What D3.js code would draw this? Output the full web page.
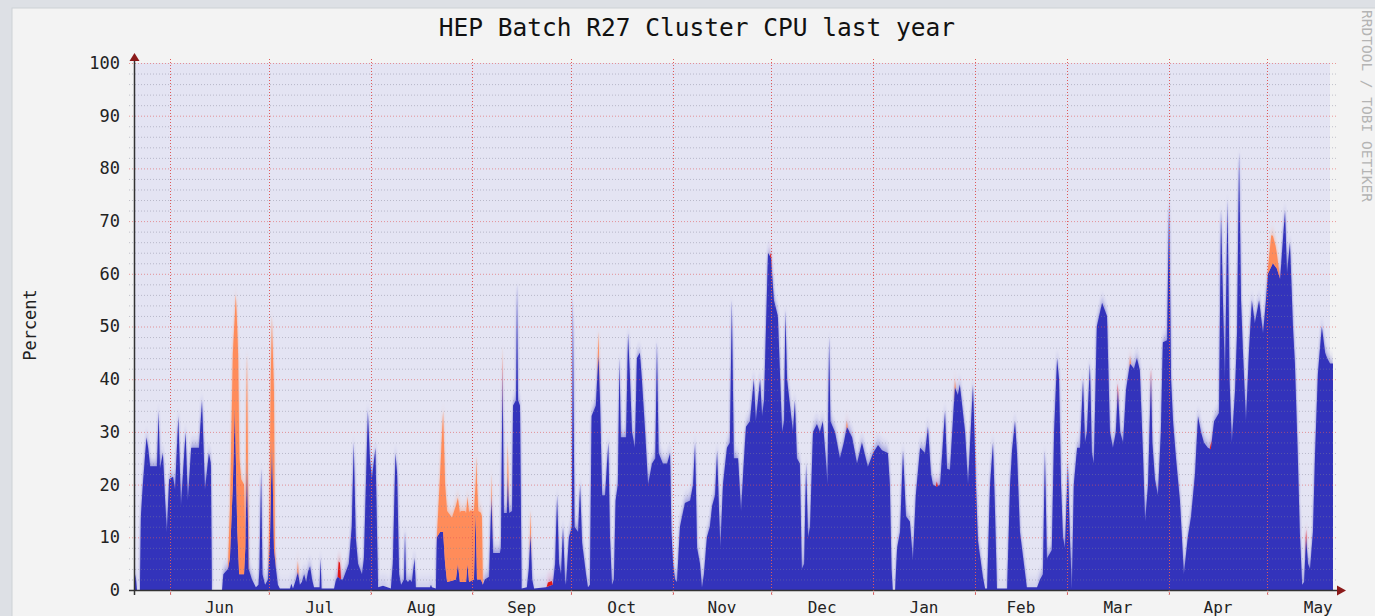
<!DOCTYPE html>
<html>
<head>
  <style>
    body {
      margin: 0;
      padding: 0;
      background: #dde0e5;
      font-family: "DejaVu Sans Mono", monospace;
    }
    #chart {
      width: 1375px;
      height: 616px;
    }
  </style>
</head>
<body>
  <div id="chart"></div>

  <script src="https://cdnjs.cloudflare.com/ajax/libs/d3/7.8.5/d3.min.js"></script>
  <script>
    // Values: [days since 21 May, percent]
    const userCpuSpring = [
      [0,0],[0.5,3],[0.9,0],[1.8,0],[2.1,14],[2.7,20],[3.8,29],[4.3,27],[4.9,23.5],[7.0,23.5],[7.5,34],[7.9,23],
      [8.8,26],[9.4,18],[10.0,11],[10.7,21],[11.9,21.5],[12.5,19],[13.5,33],[14.3,16],[15.7,30],[16.4,17],[17.4,27],
      [19.8,27],[20.7,36],[21.6,19],[22.8,26],[23.4,24],[23.7,0],[26.8,0],[27.2,3],[28.6,4],[29.2,6],[30.1,20],
      [30.7,35],[31.4,12],[32.0,3],[33.5,3],[33.9,8],[34.4,26],[34.9,4],[35.9,2],[37.1,0.5],[37.9,1],[38.2,4],
      [38.7,23],[39.1,3],[39.9,1],[40.8,2],[41.4,10],[42.0,29],[42.6,8],[43.2,4],[43.8,1],[44.4,0.3]
    ];
    const userCpuSummer = [
      [45.1,0.3],[47.5,0.3],[47.9,1.2],[48.4,0.3],[49.3,2],[49.9,3.5],[50.5,1],[51.1,1.5],[51.8,3],[52.4,1.5],
      [53.0,3.5],[53.6,4.5],[54.2,2],[54.8,0.5],[56.5,0.5],[56.8,6],[57.1,0.3],[60.9,0.3],[61.5,2],[62.1,2.5],
      [63.0,2],[63.6,2],[64.2,3],[65.4,5],[66.3,12],[66.9,28],[67.5,10],[68.2,5],[69.4,3],[70.0,6],[70.6,20],
      [71.2,34],[71.8,25],[72.4,21],[73.5,27],[74.0,10],[74.3,0.5],[75.8,0.8],[78.2,0.3],[78.8,5],[79.6,26],
      [80.1,22],[80.7,3],[81.3,1],[82.2,2],[82.5,11],[82.8,2],[83.4,1.5],[84.0,2],[84.6,1.5],[85.4,6],[85.8,0.5],
      [90.1,0.5],[90.4,1],[90.7,0.5],[91.9,0.3],[92.2,10],[93.2,11],[94.1,11],[94.7,5],[95.3,1.5],[98.0,2],
      [98.6,5],[99.2,1.5],[101.1,1.5],[101.5,5],[102.0,1.5],[103.5,2],[104.0,15],[104.4,2],[105.6,2],[106.2,1],
      [106.8,2],[108.1,2.5],[108.8,18],[109.3,7],[111.4,7],[111.7,8],[112.2,42],[112.6,14.6],[113.5,14.6],
      [113.8,22],[114.2,14.6],[115.1,15],[115.4,35],[116.3,36],[116.6,58],[116.9,36],[117.5,35],[118.0,0.3],
      [119.6,0.5],[120.2,4],[120.7,11],[121.2,2]
    ];
    const userCpuAutumn = [
      [121.8,0.3],[125.4,0.5],[127.5,1],[128.2,5],[128.8,18],[129.4,5],[130.0,3],[130.6,12],[131.2,2],[131.5,1],
      [132.4,10],[133.3,12],[133.6,56],[134.1,12],[135.2,11],[135.8,20],[136.4,9],[137.6,3],[138.2,0.5],[138.8,1],
      [139.3,33],[140.6,35],[141.4,45],[141.9,35],[142.5,18],[143.4,18],[144.0,24],[144.4,28],[144.9,10],[145.5,1],
      [146.1,2],[146.6,17],[147.3,20],[147.8,44],[148.2,29],[149.8,29],[150.4,48.7],[151.0,40],[151.6,30],[152.5,27],
      [153.1,44],[154.0,45],[154.6,40],[155.6,30],[156.5,20],[157.7,24],[158.7,25],[159.2,47],[159.7,26],[161.0,24],
      [162.3,24],[163.2,26],[163.6,11],[164.1,5],[164.7,2],[165.3,1.5],[166.2,12],[167.7,16.5],[169.3,17],[170.2,20],
      [170.8,28],[171.4,8],[172.3,5],[172.9,0.5],[173.5,3],[174.4,10],[175.3,12],[176.0,16],[176.9,18],[177.5,26.5],
      [178.1,15],[178.5,8],[179.3,20],[180.5,27],[181.4,28],[182.0,55],[182.6,25],[183.9,25],[184.8,15],[185.7,25],
      [186.3,31],[187.5,32],[188.7,40],[189.3,32],[190.6,40],[191.2,33],[191.8,36],[192.4,50],[193.0,64],[193.9,63],
      [194.8,55],[196.0,52],[196.6,42],[197.3,30],[197.9,32],[198.3,53],[198.8,40],[199.7,35],[200.6,30],[201.2,36],
      [201.8,25],[202.7,24],[203.3,4],[204.0,5],[204.6,24],[205.2,10],[205.8,12],[206.7,30],[207.9,31.5],[208.8,30],
      [209.7,32],[210.7,24],[211.1,20],[211.6,48],[212.0,32],[213.4,30],[214.9,25],[216.1,28],[217.0,31],[218.6,29],
      [220.1,24],[221.6,28],[223.4,23.4],[225.0,26],[226.5,27.5],[227.7,26.5],[229.5,26],[230.1,20],[230.6,4],[231.0,0]
    ];
    const userCpuWinter = [
      [231.7,0],[232.3,8],[233.2,11],[234.1,26.5],[235.0,14],[236.2,13],[237.1,5.7],[238.0,18],[239.3,27],[240.8,26],
      [241.7,31],[242.6,22],[243.2,20],[244.4,19.6],[245.4,20],[246.9,34],[247.5,23],[248.4,22.8],[249.9,38.5],
      [250.8,37],[251.4,39],[253.0,30],[253.9,20],[255.4,39],[256.3,20],[256.9,9.5],[258.4,2.5],[259.1,0.3],
      [259.7,0.3],[260.6,20],[261.5,28],[262.1,15],[262.7,0.3],[265.8,0.3],[266.7,20],[267.3,26.5],[268.2,32],
      [268.8,26],[269.7,11],[270.9,5],[271.8,0.5],[274.9,0.5],[275.8,2],[276.7,3],[277.3,26.5],[277.9,6],[279.4,7.6],
      [280.1,30],[281.0,44],[281.6,40],[282.2,20],[282.8,10],[283.4,8],[284.3,24],[284.9,10],[285.5,0.3],[286.1,20],
      [287.1,27],[288.0,27],[288.9,40],[289.5,28],[290.1,30],[291.0,43],[291.6,26],[292.2,24],[293.1,50],[294.7,54.5],
      [296.2,52],[297.1,30],[298.0,27],[298.9,30],[299.5,38],[300.2,30],[301.1,28],[302.0,38],[303.2,43],[304.4,42],
      [305.3,44],[306.2,41.7],[307.2,25],[307.8,13],[308.7,20],[309.6,40.8],[310.0,28],[310.8,21],[311.7,18],
      [312.6,30],[313.2,47],[314.5,47.4],[315.1,74],[315.7,40],[316.3,32],[317.2,25],[318.4,17],[319.6,3],[320.8,10],
      [321.8,14],[323.0,22],[323.9,33],[324.8,30],[325.7,28],[326.9,27],[327.8,26.7],[328.8,32],[330.3,33.6],
      [330.9,72],[331.5,55],[332.1,40],[332.9,74],[333.5,40],[334.2,28],[335.2,38],[335.8,49],[336.4,83],[337.0,55],
      [337.6,45],[338.5,32],[339.4,45],[340.3,55],[341.2,50.6],[342.5,55],[343.7,48.7],[344.6,55],[345.2,60],
      [346.7,62],[347.9,61],[348.9,59],[350.4,72],[351.0,60],[351.9,66],[352.8,50],[353.4,43],[354.3,25],[354.9,11],
      [355.6,1],[356.2,1.5],[356.8,10],[357.4,5],[358.0,4],[358.9,11],[359.5,25],[360.4,41],[361.6,50],[362.6,45],
      [363.2,44],[364.1,43],[365.0,43]
    ];
    const systemCpu = [
      [62.0,0],[62.3,3],[62.7,3],[63.0,0],[112.0,0],[112.2,2],[112.4,0],[125.6,0],[126.0,0.8],[127.2,0.8],[127.5,0],
      [193.6,0],[193.9,1],[194.2,0],[244.1,0],[244.4,1],[244.7,0],[299.2,0],[299.5,1.2],[299.8,0],[309.3,0],
      [309.6,1.2],[309.9,0],[327.5,0],[327.8,1],[328.1,0],[356.5,0],[356.8,1.5],[357.1,0]
    ];
    const niceCpu = [
      [28.6,0],[29.5,14],[30.1,25],[30.7,17],[31.0,31],[31.4,38],[31.7,37],[32.1,22],[32.6,18],[33.5,17],[33.9,1],
      [34.2,16],[34.4,19],[34.7,10],[35.0,0],[40.9,0],[41.2,8],[41.6,23],[42.1,23],[42.6,30],[42.9,2],[43.2,0],
      [49.6,0],[49.9,2],[50.2,0],[91.9,0],[92.2,0],[93.2,11],[94.1,23],[94.7,15],[95.3,13.5],[96.8,12],[98.0,14],
      [98.6,12.5],[99.5,13.5],[100.8,13.5],[101.4,12.6],[102.3,13.5],[103.5,13],[104.0,5],[104.3,20],[104.8,13],
      [105.9,12.5],[106.2,0],[108.7,0],[108.8,4],[109.2,0],[112.0,0],[112.2,2],[112.4,0],[113.5,0],[113.8,6],
      [114.2,0],[120.4,0],[120.7,4],[121.0,0],[141.0,0],[141.4,4],[141.8,0],[216.7,0],[217.0,1.2],[217.3,0],
      [249.6,0],[249.9,1.5],[250.2,0],[303.0,0],[303.2,1.5],[303.5,0],[345.0,0],[346.2,6],[347.5,4],[348.9,0]
    ];
    const monthLabels = ['Jun', 'Jul', 'Aug', 'Sep', 'Oct', 'Nov', 'Dec', 'Jan', 'Feb', 'Mar', 'Apr', 'May'];
    const yTickLabels = [0, 10, 20, 30, 40, 50, 60, 70, 80, 90, 100];

    const start = new Date(2018, 4, 21);
    const end = new Date(start.getTime() + 365 * 864e5);
    const toDate = t => new Date(start.getTime() + t * 864e5);

    const svg = d3.select('#chart').append('svg')
      .attr('width', 1375)
      .attr('height', 616);

    // canvas panel
    svg.append('rect').attr('width', 1375).attr('height', 616).attr('fill', '#dde0e5');
    svg.append('rect').attr('x', 12).attr('y', 8).attr('width', 1375).attr('height', 620)
      .attr('fill', '#f3f3f3').attr('stroke', '#cdd1d6');

    const x = d3.scaleTime().domain([start, end]).range([134, 1333]);
    const y = d3.scaleLinear().domain([0, 100]).range([590, 63]);

    svg.append('rect')
      .attr('x', x.range()[0]).attr('y', y(100))
      .attr('width', x.range()[1] - x.range()[0] - 3).attr('height', y(0) - y(100))
      .attr('fill', '#e4e4f3');

    const defs = svg.append('defs');
    defs.append('clipPath').attr('id', 'plot-clip')
      .append('rect')
      .attr('x', x.range()[0]).attr('y', y(100))
      .attr('width', x.range()[1] - x.range()[0]).attr('height', y(0) - y(100));
    defs.append('filter').attr('id', 'soft')
      .attr('x', '-2%').attr('y', '-30%').attr('width', '104%').attr('height', '160%')
      .append('feGaussianBlur').attr('stdDeviation', '1 7');

    // stack the three series on a common set of breakpoints
    const userCpu = [].concat(userCpuSpring, userCpuSummer, userCpuAutumn, userCpuWinter);
    const bis = d3.bisector(d => d[0]).left;
    function valueAt(s, t) {
      const i = bis(s, t);
      if (i < s.length && s[i][0] === t) return s[i][1];
      if (i === 0 || i >= s.length) return 0;
      const a = s[i - 1], b = s[i];
      return a[1] + (b[1] - a[1]) * (t - a[0]) / (b[0] - a[0]);
    }
    const times = Array.from(new Set([...userCpu, ...systemCpu, ...niceCpu].map(d => d[0]))).sort((a, b) => a - b);
    const table = times.map(t => ({
      t: t,
      user: valueAt(userCpu, t),
      system: valueAt(systemCpu, t),
      nice: valueAt(niceCpu, t)
    }));
    const stacked = d3.stack().keys(['user', 'system', 'nice'])(table);
    const colors = { user: '#3333bb', system: '#e01818', nice: '#ff8c5a' };

    const area = d3.area()
      .x(d => x(toDate(d.data.t)))
      .y0(d => y(d[0]))
      .y1(d => y(d[1]));

    const plot = svg.append('g').attr('clip-path', 'url(#plot-clip)');

    // soft halo above the peaks (the averaged-out maxima look faded in the original)
    plot.append('g')
      .attr('filter', 'url(#soft)')
      .attr('opacity', 0.7)
      .selectAll('path')
      .data(stacked)
      .join('path')
      .attr('d', area)
      .attr('fill', d => colors[d.key]);

    plot.append('g').selectAll('path')
      .data(stacked)
      .join('path')
      .attr('d', area)
      .attr('fill', d => colors[d.key]);

    // grid on top of the data, like rrdtool
    const grid = svg.append('g');
    grid.selectAll('.minor')
      .data(d3.range(0, 101, 2).filter(v => v % 10 !== 0))
      .join('line')
      .attr('x1', x.range()[0] - 5).attr('x2', x.range()[1] + 5)
      .attr('y1', d => y(d) + 0.5).attr('y2', d => y(d) + 0.5)
      .attr('stroke', 'rgba(130,130,150,0.45)')
      .attr('stroke-dasharray', '1,2');
    grid.selectAll('.major')
      .data(yTickLabels)
      .join('line')
      .attr('x1', x.range()[0] - 5).attr('x2', x.range()[1] + 5)
      .attr('y1', d => y(d) + 0.5).attr('y2', d => y(d) + 0.5)
      .attr('stroke', 'rgba(225,90,90,0.6)')
      .attr('stroke-dasharray', '1,2');

    const months = d3.timeMonth.range(d3.timeMonth.ceil(start), end);
    grid.selectAll('line.vgrid')
      .data(months)
      .join('line')
      .attr('class', 'vgrid')
      .attr('x1', d => Math.round(x(d)) + 0.5).attr('x2', d => Math.round(x(d)) + 0.5)
      .attr('y1', y(0) + 4).attr('y2', y(100) - 4)
      .attr('stroke', '#dd5a5a')
      .attr('stroke-dasharray', '1,2');

    // axes
    svg.append('line')
      .attr('x1', x.range()[0] - 5).attr('x2', x.range()[1] + 6)
      .attr('y1', y(0) + 0.5).attr('y2', y(0) + 0.5)
      .attr('stroke', '#333').attr('stroke-width', 1.5);
    svg.append('line')
      .attr('x1', x.range()[0] + 0.5).attr('x2', x.range()[0] + 0.5)
      .attr('y1', y(0) + 5).attr('y2', y(100) - 4)
      .attr('stroke', '#333').attr('stroke-width', 1.5);
    svg.append('path')
      .attr('d', `M${x.range()[1] + 4},${y(0) - 4.5}L${x.range()[1] + 13},${y(0) + 0.5}L${x.range()[1] + 4},${y(0) + 5.5}Z`)
      .attr('fill', '#8b1a1a');
    svg.append('path')
      .attr('d', `M${x.range()[0] - 4.5},${y(100) - 2}L${x.range()[0] + 0.5},${y(100) - 10}L${x.range()[0] + 5.5},${y(100) - 2}Z`)
      .attr('fill', '#8b1a1a');

    const yAxis = d3.axisLeft(y).tickValues(yTickLabels).tickSize(0).tickPadding(14);
    svg.append('g')
      .attr('transform', `translate(${x.range()[0]},0)`)
      .call(yAxis)
      .call(g => g.select('.domain').remove())
      .call(g => g.selectAll('text')
        .attr('font-family', '"DejaVu Sans Mono", monospace')
        .attr('font-size', 17).attr('fill', '#222'));

    const xAxis = d3.axisBottom(x).tickValues(months).tickSize(5).tickFormat('');
    svg.append('g')
      .attr('transform', `translate(0,${y(0)})`)
      .call(xAxis)
      .call(g => g.select('.domain').remove())
      .call(g => g.selectAll('line').attr('stroke', 'rgba(200,80,80,0.8)').attr('stroke-dasharray', '1,1'));

    svg.append('g').selectAll('text')
      .data(months)
      .join('text')
      .attr('x', d => (x(d) + x(d3.timeMonth.offset(d, 1))) / 2)
      .attr('y', 613)
      .attr('text-anchor', 'middle')
      .attr('font-size', 16)
      .attr('fill', '#222')
      .text((d, i) => monthLabels[i]);

    svg.append('text')
      .attr('x', 697).attr('y', 36)
      .attr('text-anchor', 'middle')
      .attr('font-size', 24.5)
      .attr('fill', '#111')
      .text('HEP Batch R27 Cluster CPU last year');

    svg.append('text')
      .attr('transform', 'translate(36,325) rotate(-90)')
      .attr('text-anchor', 'middle')
      .attr('font-size', 17)
      .attr('fill', '#222')
      .text('Percent');

    svg.append('text')
      .attr('transform', 'translate(1362,10) rotate(90)')
      .attr('font-size', 14.5)
      .attr('fill', '#b4b4b4')
      .text('RRDTOOL / TOBI OETIKER');
  </script>
</body>
</html>
